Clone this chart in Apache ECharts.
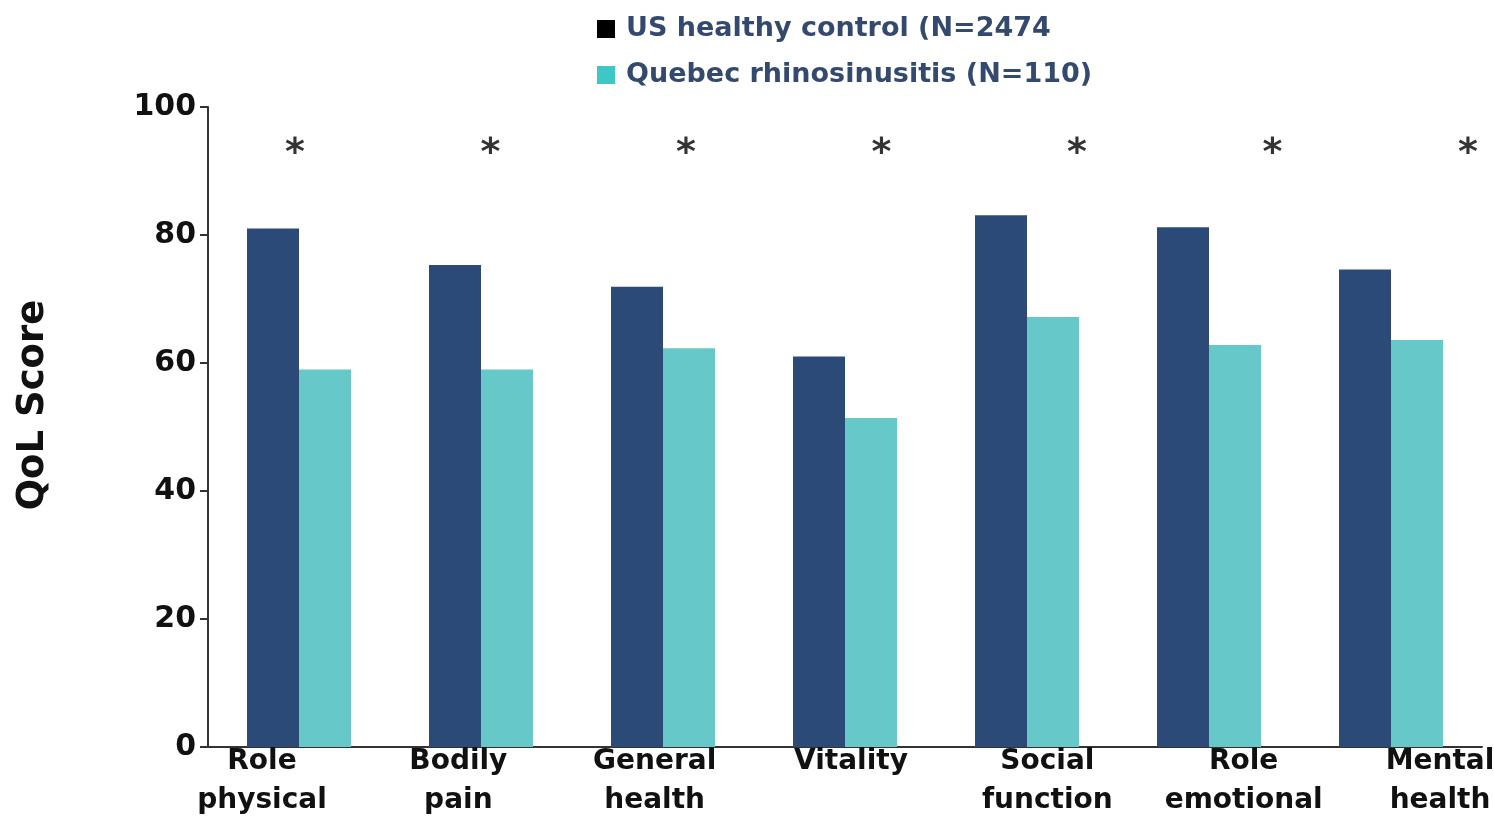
<!DOCTYPE html>
<html>
<head>
<meta charset="utf-8">
<title>SF-36 QoL scores</title>
<script src="https://cdn.jsdelivr.net/npm/echarts@6/dist/echarts.min.js"></script>
<style>
  html, body { margin: 0; padding: 0; background: #fff; }
  #chart { width: 1494px; height: 818px; }
</style>
</head>
<body>
<div id="chart"></div>
<script>
// SF-36 domains
const categories = ['Role\nphysical', 'Bodily\npain', 'General\nhealth', 'Vitality',
                    'Social\nfunction', 'Role\nemotional', 'Mental\nhealth'];
const controlName = 'US healthy control (N=2474';
const rhinoName = 'Quebec rhinosinusitis (N=110)';
const controlScores = [81, 75.3, 71.9, 61, 83.1, 81.2, 74.6];
const rhinoScores = [59, 59, 62.3, 51.4, 67.2, 62.8, 63.6];
// significance markers (*) drawn above each domain
const sigLevel = [92.6, 92.6, 92.6, 92.6, 92.6, 92.6, 92.6];
const yTicks = [0, 20, 40, 60, 80, 100];

const FONT = 'DejaVu Sans';
const chart = echarts.init(document.getElementById('chart'));

const plotTop = 107, plotHeight = 640;

chart.setOption({
  animation: false,
  backgroundColor: '#ffffff',
  legend: {
    orient: 'vertical',
    left: 592,
    top: 10,
    itemWidth: 18,
    itemHeight: 18,
    itemGap: 18,
    icon: 'rect',
    selectedMode: false,
    textStyle: {
      fontFamily: FONT, fontWeight: 'bold', fontSize: 27, color: '#34496e',
      lineHeight: 28, padding: [0, 0, 0, 6]
    },
    data: [
      { name: controlName, itemStyle: { color: '#000000' } },
      { name: rhinoName, itemStyle: { color: '#3fc6c6' } }
    ]
  },
  graphic: [{
    type: 'text',
    x: 33, y: 405,
    rotation: Math.PI / 2,
    style: {
      text: 'QoL Score',
      fill: '#111',
      font: 'bold 37px "DejaVu Sans"',
      align: 'center',
      verticalAlign: 'middle'
    }
  }],
  grid: [
    { left: 208, width: 1274, top: plotTop, height: plotHeight, outerBoundsMode: 'none' },
    // grid for domain labels (first to last label centre)
    { left: 262, width: 1178, top: plotTop, height: plotHeight, outerBoundsMode: 'none' },
    // grid for significance markers (first to last marker centre)
    { left: 295, width: 1173, top: plotTop, height: plotHeight, outerBoundsMode: 'none' }
  ],
  xAxis: [
    {
      type: 'category', gridIndex: 0, data: categories,
      axisLine: { show: true, lineStyle: { color: '#333', width: 2 } },
      axisTick: { show: false },
      axisLabel: { show: false }
    },
    {
      type: 'category', gridIndex: 1, data: categories, boundaryGap: false,
      axisLine: { show: false }, axisTick: { show: false },
      axisLabel: {
        show: true, interval: 0, margin: -5,
        fontFamily: FONT, fontWeight: 'bold', fontSize: 28, lineHeight: 39, color: '#111'
      }
    },
    {
      type: 'category', gridIndex: 2, data: categories, boundaryGap: false,
      axisLine: { show: false }, axisTick: { show: false }, axisLabel: { show: false }
    }
  ],
  yAxis: [
    {
      type: 'value', gridIndex: 0, min: yTicks[0], max: yTicks[yTicks.length - 1], interval: 20,
      splitLine: { show: false },
      axisLine: { show: true, lineStyle: { color: '#333', width: 2 } },
      axisTick: { show: true, length: 8, lineStyle: { color: '#333', width: 2 } },
      axisLabel: {
        margin: 12, fontFamily: FONT, fontWeight: 'bold', fontSize: 30, color: '#111'
      }
    },
    { type: 'value', gridIndex: 1, min: 0, max: 100, show: false },
    { type: 'value', gridIndex: 2, min: 0, max: 100, show: false }
  ],
  series: [
    {
      name: controlName, type: 'bar', xAxisIndex: 0, yAxisIndex: 0,
      data: controlScores, barWidth: 52, barGap: '0%',
      itemStyle: { color: '#2c4a78' }
    },
    {
      name: rhinoName, type: 'bar', xAxisIndex: 0, yAxisIndex: 0,
      data: rhinoScores, barWidth: 52, barGap: '0%',
      itemStyle: { color: '#66c8c9' }
    },
    {
      type: 'scatter', xAxisIndex: 2, yAxisIndex: 2,
      data: sigLevel, symbol: 'circle', symbolSize: 1,
      itemStyle: { color: 'rgba(0,0,0,0)' },
      label: {
        show: true, position: 'inside', formatter: '*',
        fontFamily: FONT, fontWeight: 'bold', fontSize: 38, color: '#000'
      },
      silent: true
    }
  ]
});
</script>
</body>
</html>
